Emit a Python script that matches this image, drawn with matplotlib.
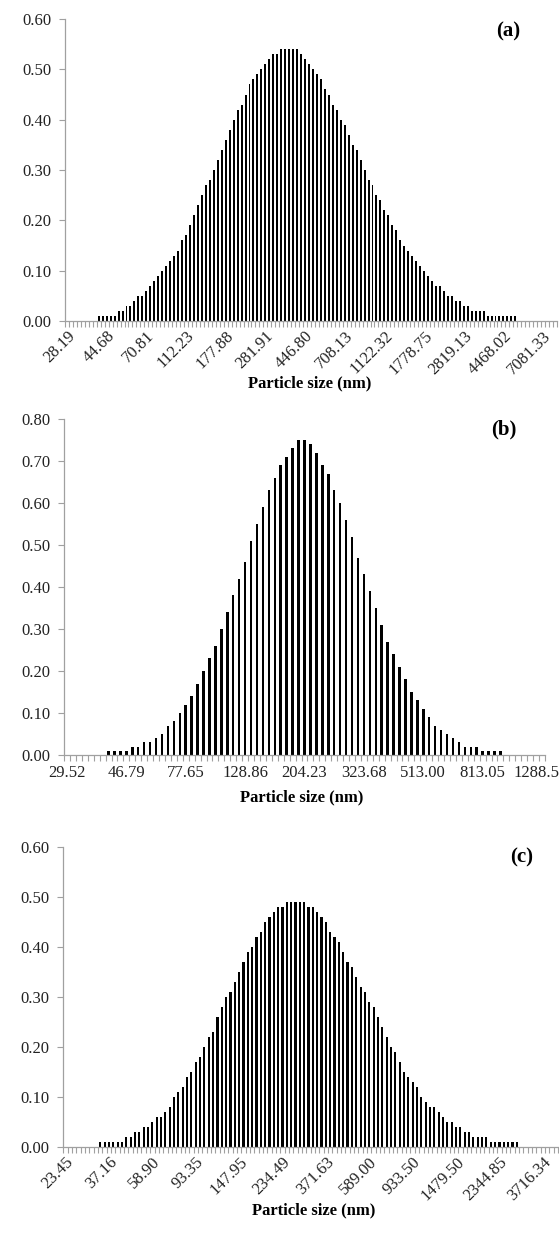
import numpy as np
import matplotlib
matplotlib.use("Agg")
import matplotlib.pyplot as plt
from matplotlib import transforms

plt.rcParams['font.family'] = ['Liberation Serif', 'DejaVu Serif']

# particle size distribution, one value per size class (%)
a_labels = ['28.19', '44.68', '70.81', '112.23', '177.88', '281.91', '446.80',
            '708.13', '1122.32', '1778.75', '2819.13', '4468.02', '7081.33']
a_vals = [0, 0, 0, 0, 0, 0, 0, 0,
          0.01, 0.01, 0.01, 0.01, 0.01, 0.02, 0.02, 0.03, 0.03, 0.04,
          0.05, 0.05, 0.06, 0.07, 0.08, 0.09, 0.10, 0.11,
          0.12, 0.13, 0.14, 0.16, 0.17, 0.19, 0.21, 0.23, 0.25, 0.27,
          0.28, 0.30, 0.32, 0.34, 0.36, 0.38, 0.40, 0.42, 0.43, 0.45,
          0.47, 0.48, 0.49, 0.50, 0.51, 0.52, 0.53, 0.53,
          0.54, 0.54, 0.54, 0.54, 0.54,
          0.53, 0.52, 0.51, 0.50, 0.49, 0.48, 0.46, 0.45, 0.43, 0.42,
          0.40, 0.39, 0.37, 0.35, 0.34, 0.32, 0.30, 0.28, 0.27, 0.25,
          0.24, 0.22, 0.21, 0.19, 0.18, 0.16, 0.15, 0.14, 0.13, 0.12,
          0.11, 0.10, 0.09, 0.08, 0.07, 0.07, 0.06, 0.05, 0.05, 0.04,
          0.04, 0.03, 0.03, 0.02, 0.02, 0.02, 0.02,
          0.01, 0.01, 0.01, 0.01, 0.01, 0.01, 0.01, 0.01,
          0, 0, 0, 0, 0, 0, 0, 0, 0, 0]

b_labels = ['29.52', '46.79', '77.65', '128.86', '204.23', '323.68', '513.00',
            '813.05', '1288.5']
b_vals = [0, 0, 0, 0, 0, 0, 0,
          0.01, 0.01, 0.01, 0.01, 0.02, 0.02, 0.03, 0.03, 0.04, 0.05,
          0.07, 0.08, 0.10, 0.12, 0.14, 0.17, 0.20, 0.23, 0.26, 0.30,
          0.34, 0.38, 0.42, 0.46, 0.51, 0.55, 0.59, 0.63, 0.66, 0.69,
          0.71, 0.73, 0.75, 0.75, 0.74, 0.72, 0.69, 0.67, 0.63, 0.60,
          0.56, 0.52, 0.47, 0.43, 0.39, 0.35, 0.31, 0.27, 0.24, 0.21,
          0.18, 0.15, 0.13, 0.11, 0.09, 0.07, 0.06, 0.05, 0.04, 0.03,
          0.02, 0.02, 0.02, 0.01, 0.01, 0.01, 0.01,
          0, 0, 0, 0, 0, 0, 0]

c_labels = ['23.45', '37.16', '58.90', '93.35', '147.95', '234.49', '371.63',
            '589.00', '933.50', '1479.50', '2344.85', '3716.34']
c_vals = [0, 0, 0, 0, 0, 0, 0, 0,
          0.01, 0.01, 0.01, 0.01, 0.01, 0.01, 0.02, 0.02, 0.03, 0.03,
          0.04, 0.04, 0.05, 0.06, 0.06, 0.07, 0.08,
          0.10, 0.11, 0.12, 0.14, 0.15, 0.17, 0.18, 0.20, 0.22, 0.23,
          0.26, 0.28, 0.30, 0.31, 0.33, 0.35, 0.37, 0.39, 0.40, 0.42,
          0.43, 0.45, 0.46, 0.47, 0.48, 0.48,
          0.49, 0.49, 0.49, 0.49, 0.49,
          0.48, 0.48, 0.47, 0.46, 0.45, 0.43, 0.42, 0.41, 0.39, 0.37,
          0.36, 0.34, 0.32, 0.31, 0.29, 0.28, 0.26, 0.24, 0.22, 0.20,
          0.19, 0.17, 0.15, 0.14, 0.13, 0.12, 0.10, 0.09, 0.08, 0.08,
          0.07, 0.06, 0.05, 0.05, 0.04, 0.04, 0.03, 0.03,
          0.02, 0.02, 0.02, 0.02,
          0.01, 0.01, 0.01, 0.01, 0.01, 0.01, 0.01,
          0, 0, 0, 0, 0, 0, 0, 0, 0]

W, H = 559, 1236
GRAY = '#a0a0a0'
fig = plt.figure(figsize=(W / 100, H / 100), dpi=100)


def panel(l, r, top, bot, vals, labels, ymax, tag, tag_xy, rot, xlab_xy, bw):
    ax = fig.add_axes([l / W, 1 - bot / H, (r - l) / W, (bot - top) / H])
    n = len(vals)
    ax.bar(np.arange(n), vals, width=bw, color='black', linewidth=0)
    ax.set_xlim(-0.5, n - 0.5)
    ax.set_ylim(0, ymax)
    yt = np.arange(0, ymax + 1e-9, 0.1)
    ax.set_yticks(yt)
    ax.set_yticklabels(['%.2f' % v for v in yt])
    ax.set_xticks(np.arange(0, n, 10)[:len(labels)])
    if rot:
        ax.set_xticklabels(labels, rotation=45, ha='right', va='top',
                           rotation_mode='anchor')
        ax.tick_params(axis='x', which='major', length=0, pad=5)
    else:
        ax.set_xticklabels(labels)
        ax.tick_params(axis='x', which='major', length=0, pad=7)
    ax.set_xticks(np.arange(-0.5, n, 1), minor=True)
    ax.tick_params(axis='x', which='minor', length=4, width=0.8, color=GRAY,
                   direction='out')
    ax.tick_params(axis='y', length=4, width=0.8, color=GRAY, pad=6)
    ax.tick_params(labelsize=12, labelcolor='#222222')
    for s in ['top', 'right']:
        ax.spines[s].set_visible(False)
    for s in ['left', 'bottom']:
        ax.spines[s].set_color(GRAY)
        ax.spines[s].set_linewidth(0.9)
    fig.text(tag_xy[0] / W, 1 - tag_xy[1] / H, tag, fontsize=15,
             fontweight='bold', ha='center', va='center')
    fig.text(xlab_xy[0] / W, 1 - xlab_xy[1] / H, 'Particle size (nm)',
             fontsize=12, fontweight='bold', ha='center', va='center')
    return ax


panel(65, 557, 19, 321, a_vals, a_labels, 0.6, '(a)', (508, 31), True,
      (310, 383), 0.5)
axb = panel(64, 545, 419, 755, b_vals, b_labels, 0.8, '(b)', (504, 429), False,
            (302, 797), 0.42)
panel(63.4, 558, 847, 1147, c_vals, c_labels, 0.6, '(c)', (522, 857), True,
      (314, 1210), 0.5)

# keep the last label of (b) inside the figure edge
last = axb.get_xticklabels()[-1]
last.set_transform(last.get_transform() +
                   transforms.ScaledTranslation(-6 / 100, 0, fig.dpi_scale_trans))

fig.savefig('out.png', dpi=100)
